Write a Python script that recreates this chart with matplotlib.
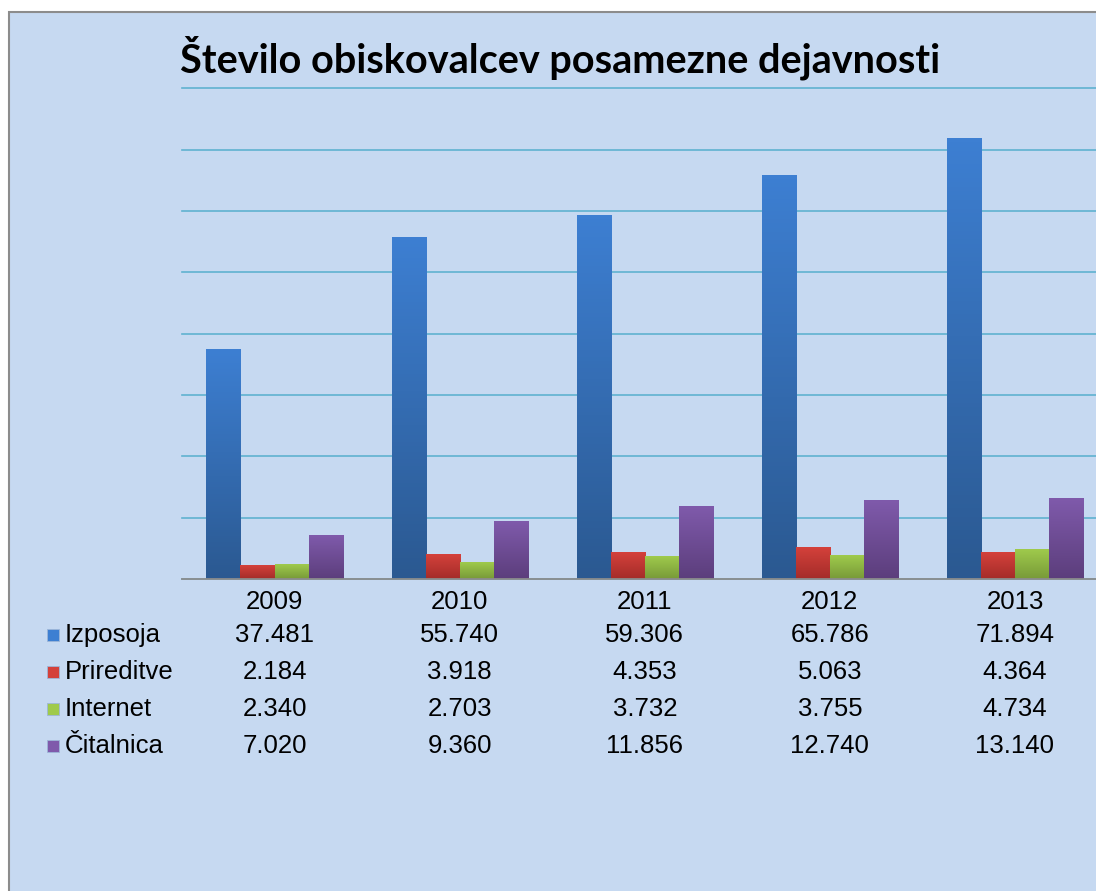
import numpy as np
import matplotlib.pyplot as plt
from matplotlib.colors import LinearSegmentedColormap
from matplotlib.patches import Rectangle
from matplotlib.transforms import blended_transform_factory

plt.rcParams['font.family'] = ['Liberation Sans', 'DejaVu Sans']

years = ['2009', '2010', '2011', '2012', '2013']
series = ['Izposoja', 'Prireditve', 'Internet', 'Čitalnica']
izposoja = [37481, 55740, 59306, 65786, 71894]
prireditve = [2184, 3918, 4353, 5063, 4364]
internet = [2340, 2703, 3732, 3755, 4734]
citalnica = [7020, 9360, 11856, 12740, 13140]
values = [izposoja, prireditve, internet, citalnica]

# (top, bottom) colours for the gradient fill
grad = [('#3d7fd2', '#2b5991'),
        ('#d4413b', '#a42c29'),
        ('#9fca4c', '#789a38'),
        ('#7f5aab', '#5c3e7c')]

bg = '#c6d9f1'
W, H = 1096, 891
fig = plt.figure(figsize=(W / 100, H / 100), dpi=100)
fig.patch.set_facecolor('white')

# chart area (cut off on the right and bottom as in the original)
fig.patches.append(Rectangle((9 / W, -0.05), 1.2, 1 - 12 / H + 0.05,
                             transform=fig.transFigure, facecolor=bg,
                             edgecolor='#8c8c8c', linewidth=1.5, zorder=-5))

left, right = 182 / W, 1107.5 / W
bottom, top = 1 - 579 / H, 1 - 88.5 / H
ax = fig.add_axes([left, bottom, right - left, top - bottom])
ax.set_facecolor('none')
ax.set_xlim(-0.5, len(years) - 0.5)
ax.set_ylim(0, 80000)
ax.set_yticks(np.arange(0, 80001, 10000))
ax.yaxis.grid(True, color='#5fb2d0', linewidth=1.2)
ax.set_axisbelow(True)
for s in ['top', 'right', 'left']:
    ax.spines[s].set_visible(False)
ax.spines['bottom'].set_color('#8c8c8c')
ax.spines['bottom'].set_linewidth(1.3)
ax.spines['bottom'].set_zorder(5)
ax.tick_params(left=False, bottom=False, labelleft=False, labelbottom=False)

bw = 0.184
x = np.arange(len(years))
for i, (vals, (c_top, c_bot)) in enumerate(zip(values, grad)):
    cmap = LinearSegmentedColormap.from_list('g%d' % i, [c_bot, c_top])
    bars = ax.bar(x + (i - 1.5) * bw, vals, bw, color='none', edgecolor='none')
    for b in bars:
        x0, w, h = b.get_x(), b.get_width(), b.get_height()
        ax.imshow(np.linspace(0, 1, 100).reshape(-1, 1), cmap=cmap, origin='lower',
                  extent=[x0, x0 + w, 0, h], aspect='auto', zorder=3)
ax.set_xlim(-0.5, len(years) - 0.5)
ax.set_ylim(0, 80000)
# keep the top gridline from being clipped away
for gl in ax.get_ygridlines():
    gl.set_clip_on(False)

fig.text(180 / W, 1 - 72 / H, 'Število obiskovalcev posamezne dejavnosti',
         fontsize=28.5, fontweight='bold', family=['Lato', 'DejaVu Sans'],
         ha='left', va='baseline')

# data table under the chart
tr = blended_transform_factory(ax.transData, fig.transFigure)
fs = 18.5
for j, yr in enumerate(years):
    fig.text(j, 1 - 602 / H, yr, transform=tr, fontsize=fs, ha='center', va='center')
row_y = [635, 672, 709, 746]
for i, name in enumerate(series):
    yy = 1 - row_y[i] / H
    fig.patches.append(Rectangle((47 / W, yy - 6 / H), 12 / W, 12 / H,
                                 transform=fig.transFigure, facecolor=grad[i][0],
                                 edgecolor='#9db6d8', linewidth=0.6, zorder=2))
    fig.text(65 / W, yy, name, fontsize=fs, ha='left', va='center')
    for j, v in enumerate(values[i]):
        fig.text(j, yy, f'{v:,}'.replace(',', '.'), transform=tr,
                 fontsize=fs, ha='center', va='center')

fig.savefig('out.png', dpi=100)
